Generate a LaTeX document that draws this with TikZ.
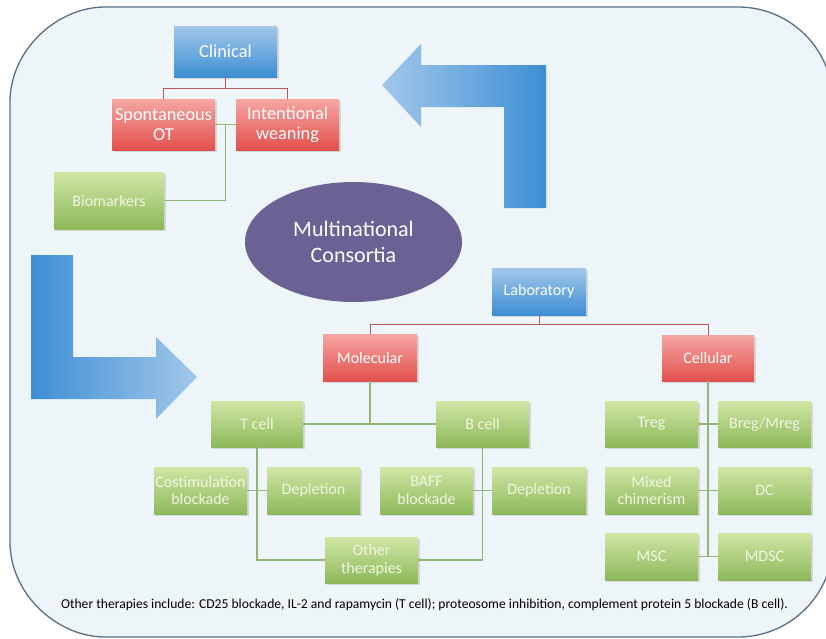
\documentclass[tikz,border=0pt]{standalone}
\usepackage{fontspec}
\setmainfont{Carlito}
\usetikzlibrary{calc,shapes.geometric,shadows}
\definecolor{framefill}{HTML}{EEF5F8}
\definecolor{frameline}{HTML}{5B6F84}
\definecolor{bluetop}{HTML}{A2C7EA}
\definecolor{bluebot}{HTML}{3D8FD3}
\definecolor{redtop}{HTML}{F6A6A2}
\definecolor{redbot}{HTML}{E2504D}
\definecolor{greentop}{HTML}{D0E6A4}
\definecolor{greenbot}{HTML}{8DB85A}
\definecolor{redline}{HTML}{B85A56}
\definecolor{greenline}{HTML}{93B575}
\definecolor{purple}{HTML}{6A6195}
\definecolor{greentext}{HTML}{EEF5E2}
\tikzset{
  cbox/.style={rectangle, inner sep=0pt, align=center, text=white,
    drop shadow={shadow xshift=1.5pt, shadow yshift=-1.5pt, opacity=0.25}},
  bluebox/.style={cbox, top color=bluetop, bottom color=bluebot},
  redbox/.style={cbox, top color=redtop, bottom color=redbot},
  greenbox/.style={cbox, top color=greentop, bottom color=greenbot, text=greentext},
  big/.style={font=\fontsize{18.3}{20}\selectfont},
  small/.style={font=\fontsize{16}{17.5}\selectfont},
  rl/.style={draw=redline, line width=1pt},
  gl/.style={draw=greenline, line width=1.2pt},
}
\begin{document}
\begin{tikzpicture}[x=1pt,y=-1pt]
\useasboundingbox (0,0) rectangle (826,638);
\begin{scope}
\clip (0,0) rectangle (826,638);
\draw[fill=framefill, draw=frameline, line width=1.3pt]
  (10,102) .. controls (10,49.5) and (57.5,7) .. (105,7) -- (738,7)
  .. controls (790.5,7) and (833,49.5) .. (833,102) -- (833,542)
  .. controls (833,594.5) and (790.5,637) .. (738,637) -- (105,637)
  .. controls (57.5,637) and (10,594.5) .. (10,542) -- cycle;
\end{scope}
% big arrows
\shade[left color=bluetop, right color=bluebot]
  (382,85) -- (421,44) -- (421,65) -- (546,65) -- (546,208) -- (504,208) -- (504,107) -- (421,107) -- (421,127) -- cycle;
\shade[left color=bluebot, right color=bluetop]
  (31,255) -- (73,255) -- (73,357) -- (156,357) -- (156,337) -- (197,377) -- (156,419) -- (156,399) -- (31,399) -- cycle;
% ellipse
\node[ellipse, fill=purple, minimum width=217pt, minimum height=120pt, inner sep=0pt, align=center,
  text=white, font=\fontsize{22}{26}\selectfont] (cons) at (353.5,242) {Multinational\\Consortia};
% clinical
\node[bluebox, big, minimum width=103pt, minimum height=51pt] (clin) at (225.5,51.5) {Clinical};
\node[redbox, big, minimum width=103pt, minimum height=51pt] (spont) at (163.5,124.5) {Spontaneous\\OT};
\node[redbox, big, minimum width=103pt, minimum height=51pt] (intent) at (287.5,124.5) {Intentional\\weaning};
\node[greenbox, small, minimum width=110pt, minimum height=57pt] (bio) at (109,200.5) {Biomarkers};
\draw[rl] (clin.south) -- ++(0,11) -| (spont.north);
\draw[rl] (clin.south) -- ++(0,11) -| (intent.north);
\coordinate (gj) at ($(spont.east)!0.5!(intent.west)$);
\draw[gl] (spont.east) -- (intent.west);
\draw[gl] (gj) |- (bio.east);
% laboratory
\node[bluebox, small, minimum width=94pt, minimum height=47pt] (lab) at (539,291.5) {Laboratory};
\node[redbox, small, minimum width=94pt, minimum height=47pt] (mol) at (370,357.5) {Molecular};
\node[redbox, small, minimum width=92pt, minimum height=46pt] (cel) at (708,358) {Cellular};
\draw[rl] (lab.south) -- ++(0,9) -| (mol.north);
\draw[rl] (lab.south) -- ++(0,9) -| (cel.north);
% molecular
\node[greenbox, small, minimum width=92pt, minimum height=46pt] (tcell) at (257,424) {T cell};
\node[greenbox, small, minimum width=93pt, minimum height=46pt] (bcell) at (482.5,424) {B cell};
\node[greenbox, small, minimum width=93pt, minimum height=47pt] (costim) at (200.5,490.5) {Costimulation\\blockade};
\node[greenbox, small, minimum width=93pt, minimum height=47pt] (tdep) at (313.5,490.5) {Depletion};
\node[greenbox, small, minimum width=93pt, minimum height=47pt] (baff) at (426.5,490.5) {BAFF\\blockade};
\node[greenbox, small, minimum width=94pt, minimum height=47pt] (bdep) at (539,490.5) {Depletion};
\node[greenbox, small, minimum width=93pt, minimum height=46pt] (other) at (371.5,560) {Other\\therapies};
\draw[gl] (tcell.east) -- (bcell.west);
\draw[gl] (mol.south) -- (mol.south |- tcell.east);
\draw[gl] (tcell.south) |- (other.west);
\draw[gl] (bcell.south) |- (other.east);
\draw[gl] (costim.east) -- (tdep.west);
\draw[gl] (baff.east) -- (bdep.west);
% cellular
\node[greenbox, small, minimum width=93pt, minimum height=46pt] (treg) at (651.5,424) {Treg};
\node[greenbox, small, minimum width=93pt, minimum height=46pt] (breg) at (764.5,424) {Breg/Mreg};
\node[greenbox, small, minimum width=93pt, minimum height=47pt] (mixed) at (651.5,490.5) {Mixed\\chimerism};
\node[greenbox, small, minimum width=93pt, minimum height=47pt] (dc) at (764.5,490.5) {DC};
\node[greenbox, small, minimum width=93pt, minimum height=47pt] (msc) at (651.5,556.5) {MSC};
\node[greenbox, small, minimum width=93pt, minimum height=47pt] (mdsc) at (764.5,556.5) {MDSC};
\draw[gl] (cel.south) -- (cel.south |- msc.east);
\draw[gl] (treg.east) -- (breg.west);
\draw[gl] (mixed.east) -- (dc.west);
\draw[gl] (msc.east) -- (mdsc.west);
% footer
\node[font=\fontsize{13.6}{15}\selectfont, text=black, inner sep=0pt] (foot) at (424.5,605)
  {Other therapies include: CD25 blockade, IL-2 and rapamycin (T cell); proteosome inhibition, complement protein 5 blockade (B cell).};
\end{tikzpicture}
\end{document}
